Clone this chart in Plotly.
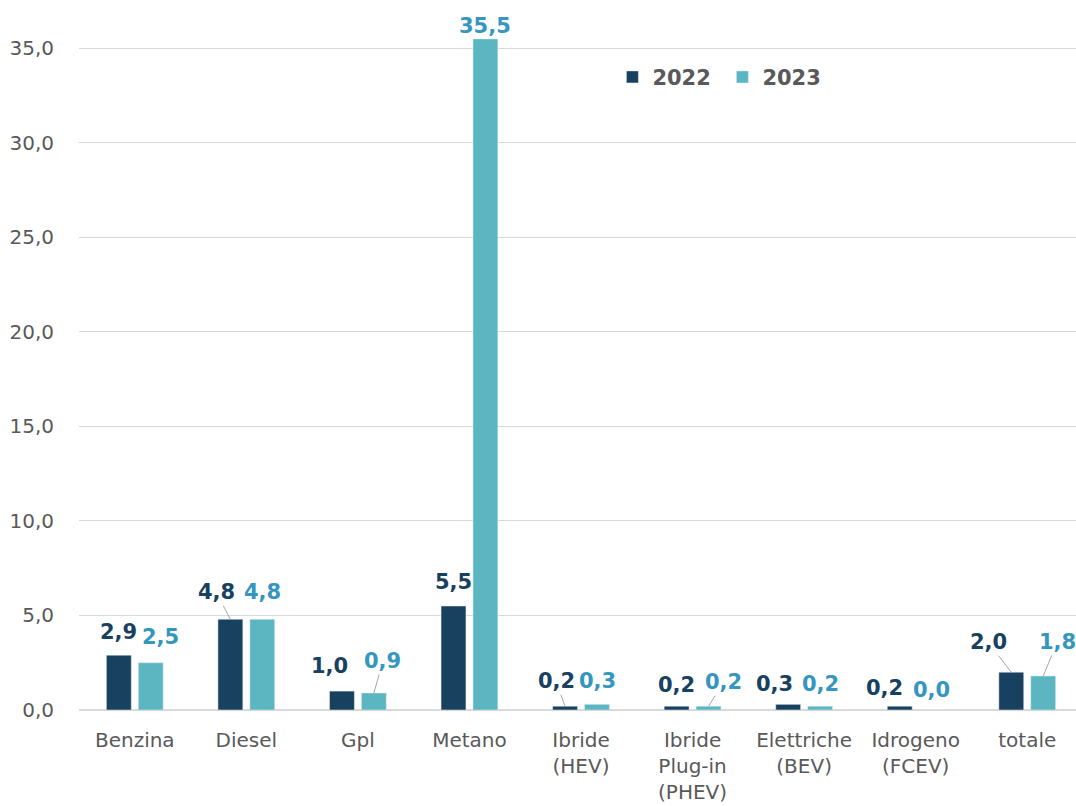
import plotly.graph_objects as go

# Data
categories = [
    "Benzina", "Diesel", "Gpl", "Metano", "Ibride<br>(HEV)",
    "Ibride<br>Plug-in<br>(PHEV)", "Elettriche<br>(BEV)", "Idrogeno<br>(FCEV)", "totale",
]
values_2022 = [2.9, 4.8, 1.0, 5.5, 0.2, 0.2, 0.3, 0.2, 2.0]
values_2023 = [2.5, 4.8, 0.9, 35.5, 0.3, 0.2, 0.2, 0.0, 1.8]
y_ticks = [0, 5, 10, 15, 20, 25, 30, 35]

# Label placement (pixel offsets of the text from the bar top) and leader lines
label_dx_2022 = [0, -14, -12, 0, -9, 0, -14, -15, -23]
label_dy_2022 = [-23, -27, -25, -24, -25, -21, -20, -18, -30]
leader_2022 = [False, True, False, False, True, False, False, False, True]
label_dx_2023 = [10, 0, 9, 0, 0, 15, 0, 0, 14]
label_dy_2023 = [-26, -27, -32, -13, -23, -24, -22, -20, -34]
leader_2023 = [False, False, True, False, False, True, False, False, True]

DARK = "#17415F"
LIGHT = "#5BB6C1"
LIGHT_TEXT = "#3596BE"
GRAY_TEXT = "#595959"
GRID = "#D9D9D9"


def fmt(v):
    return f"{v:.1f}".replace(".", ",")


fig = go.Figure()
fig.add_trace(go.Bar(x=categories, y=values_2022, name="2022", marker_color=DARK))
fig.add_trace(go.Bar(x=categories, y=values_2023, name="2023", marker_color=LIGHT))

annotations = []
series = [
    (values_2022, label_dx_2022, label_dy_2022, leader_2022, DARK, -16),
    (values_2023, label_dx_2023, label_dy_2023, leader_2023, LIGHT_TEXT, 16),
]
for vals, dxs, dys, leaders, color, shift in series:
    for cat, v, dx, dy, lead in zip(categories, vals, dxs, dys, leaders):
        annotations.append(dict(
            x=cat, y=v, xref="x", yref="y", xshift=shift,
            text=fmt(v), showarrow=True, ax=dx, ay=dy,
            arrowhead=0, arrowwidth=1, standoff=0,
            arrowcolor="#A6A6A6" if lead else "rgba(0,0,0,0)",
            font=dict(family="DejaVu Sans", size=21, color=color, weight="bold"),
        ))

fig.update_layout(
    width=1076,
    height=806,
    margin=dict(l=79, r=0, t=20, b=96),
    plot_bgcolor="white",
    paper_bgcolor="white",
    separators=",.",
    barmode="group",
    bargap=0.428,
    bargroupgap=0.22,
    annotations=annotations,
    legend=dict(
        orientation="h",
        x=0.535, xanchor="left",
        y=0.917, yanchor="middle",
        font=dict(family="DejaVu Sans", size=21, color=GRAY_TEXT, weight="bold"),
        itemwidth=30,
        entrywidth=65,
        bgcolor="rgba(0,0,0,0)",
    ),
    xaxis=dict(
        range=[-0.5, 8.437],
        showgrid=False,
        showline=False,
        ticks="outside", ticklen=0,
        ticklabelstandoff=12,
        tickfont=dict(family="DejaVu Sans", size=20, color=GRAY_TEXT),
    ),
    yaxis=dict(
        range=[0, 36.5],
        tickvals=y_ticks,
        tickformat=".1f",
        showgrid=True, gridcolor=GRID, gridwidth=1,
        zeroline=True, zerolinecolor=GRID, zerolinewidth=2,
        ticks="outside", ticklen=0,
        ticklabelstandoff=20,
        tickfont=dict(family="DejaVu Sans", size=20, color=GRAY_TEXT),
    ),
)

# drop the default page margin so the figure sits at the window's top-left corner
fig.write_html(
    "out.html",
    config={"displayModeBar": False},
    post_script="document.body.style.margin = '0';",
)
